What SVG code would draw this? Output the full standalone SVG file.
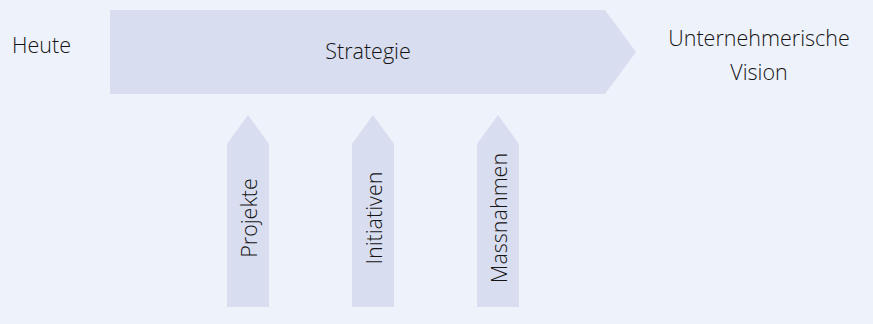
<svg xmlns="http://www.w3.org/2000/svg" width="873" height="324" viewBox="0 0 873 324">
  <style>
    .shape { fill: #d9ddf0; }
    .label { font-family: "Open Sans", "Noto Sans", sans-serif; font-size: 21.5px; font-weight: 300; fill: #141414; }
  </style>
  <rect x="0" y="0" width="873" height="324" fill="#eef2fb"/>

  <g id="heute">
    <text class="label" x="12" y="53">Heute</text>
  </g>

  <g id="strategie">
    <polygon class="shape" points="110,10 605,10 636,52 605,94 110,94"/>
    <text class="label" x="368" y="59" text-anchor="middle">Strategie</text>
  </g>

  <g id="vision">
    <text class="label" x="759" y="46" text-anchor="middle">Unternehmerische</text>
    <text class="label" x="759" y="80" text-anchor="middle">Vision</text>
  </g>

  <g id="projekte">
    <polygon class="shape" points="227,307 227,144 248,115 269,144 269,307"/>
    <text class="label" transform="translate(257,218) rotate(-90)" text-anchor="middle">Projekte</text>
  </g>

  <g id="initiativen">
    <polygon class="shape" points="352,307 352,144 373,115 394,144 394,307"/>
    <text class="label" transform="translate(382,218) rotate(-90)" text-anchor="middle">Initiativen</text>
  </g>

  <g id="massnahmen">
    <polygon class="shape" points="477,307 477,144 498,115 519,144 519,307"/>
    <text class="label" transform="translate(507,218) rotate(-90)" text-anchor="middle">Massnahmen</text>
  </g>

  <g id="connectors"></g>
</svg>
